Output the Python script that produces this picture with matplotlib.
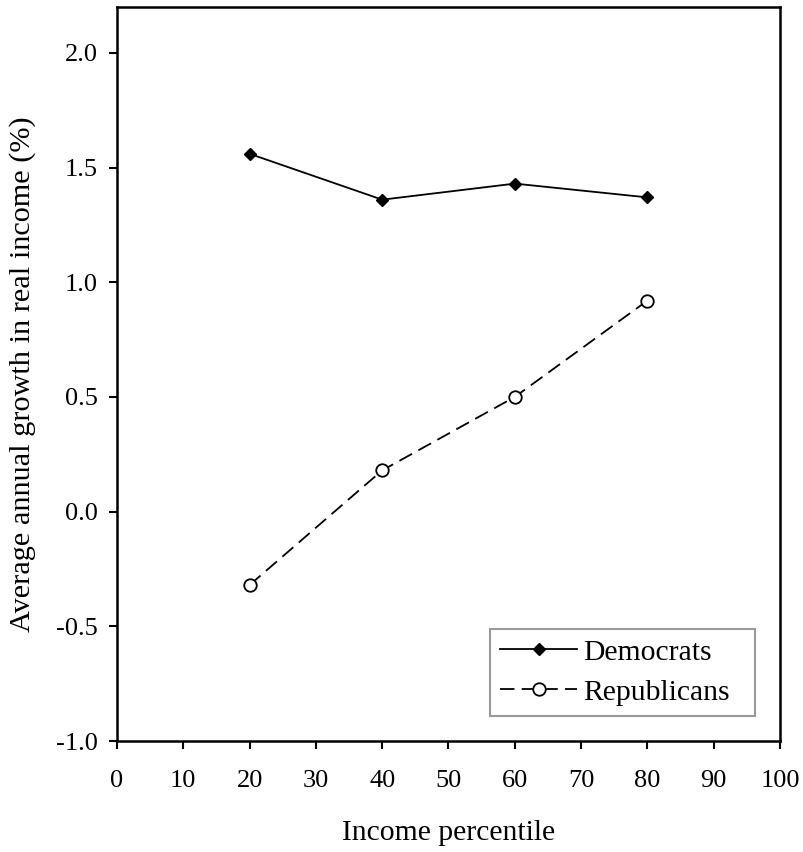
import matplotlib
matplotlib.use("Agg")
import matplotlib.pyplot as plt

percentiles = [20, 40, 60, 80]
democrats = [1.56, 1.36, 1.43, 1.37]
republicans = [-0.32, 0.18, 0.50, 0.92]
xticks = list(range(0, 101, 10))
yticks = [-1.0, -0.5, 0.0, 0.5, 1.0, 1.5, 2.0]

plt.rcParams['font.family'] = ['Liberation Serif', 'DejaVu Serif']

fig = plt.figure(figsize=(8.04, 8.52), dpi=100)
ax = fig.add_axes([117/804, 1 - 741/852, (780-117)/804, (741-7)/852])

ax.plot(percentiles, democrats, color='black', lw=1.3, marker='D', ms=6,
        mfc='black', mec='black', label='Democrats')
ax.plot(percentiles, republicans, color='black', lw=1.3, ls=(0, (8, 4)), marker='o', ms=9,
        mfc='white', mec='black', mew=1.3, label='Republicans')

ax.set_xlim(0, 100)
ax.set_ylim(-1.0, 2.2)
ax.set_xticks(xticks)
ax.set_xticklabels([str(t) for t in xticks])
ax.set_yticks(yticks)
ax.set_yticklabels([f"{t:.1f}" for t in yticks])
ax.tick_params(direction='out', length=6, width=1.5, labelsize=19)
ax.tick_params(axis='x', pad=15)
ax.tick_params(axis='y', pad=8)
for s in ax.spines.values():
    s.set_linewidth(1.8)

ax.set_xlabel('Income percentile', fontsize=21.3, labelpad=20)
ax.set_ylabel('Average annual growth in real income (%)', fontsize=21.8, labelpad=14)

leg = ax.legend(loc='lower left', mode='expand',
                bbox_to_anchor=(490/804, 1-716/852, 265/804, 89/852), bbox_transform=fig.transFigure,
                fontsize=21.3, frameon=True, fancybox=False, handlelength=2.6,
                borderpad=0.35, labelspacing=0.45, handletextpad=0.2, borderaxespad=0)
leg.get_frame().set_edgecolor('#808080')
leg.get_frame().set_linewidth(1.5)

fig.savefig('out.png', dpi=100)
